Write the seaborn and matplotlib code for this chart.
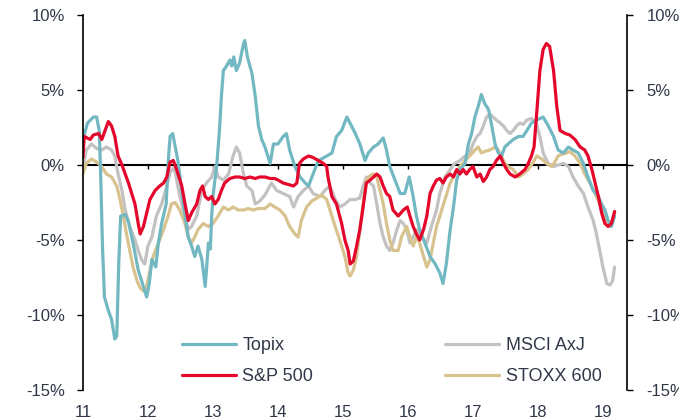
import matplotlib
matplotlib.use('Agg')
import matplotlib.pyplot as plt
from matplotlib.ticker import FuncFormatter
import seaborn as sns
import numpy as np

# (year, % value)
topix = [
    (11.0, 1.7), (11.07, 2.8), (11.16, 3.2), (11.21, 3.2), (11.25, 2.3), (11.27, -0.3), (11.30, -5.4),
    (11.33, -8.8), (11.39, -9.7), (11.44, -10.3), (11.49, -11.6), (11.52, -11.4), (11.55, -6.6),
    (11.58, -3.4), (11.65, -3.3), (11.70, -3.8), (11.77, -5.2), (11.85, -7.0), (11.93, -8.1),
    (11.98, -8.8), (12.02, -7.9), (12.06, -6.3), (12.12, -6.8), (12.16, -5.2), (12.21, -3.9),
    (12.28, -2.6), (12.31, 0.1), (12.34, 1.9), (12.38, 2.1), (12.42, 1.2), (12.46, 0.3), (12.52, -1.7),
    (12.57, -3.4), (12.62, -4.8), (12.67, -5.4), (12.72, -6.1), (12.77, -5.4), (12.83, -6.3),
    (12.88, -8.1), (12.90, -7.0), (12.93, -5.2), (12.96, -5.6), (12.98, -3.4), (13.0, -2.1),
    (13.06, 0.1), (13.10, 2.3), (13.13, 4.6), (13.16, 6.3), (13.21, 6.6), (13.26, 7.0), (13.29, 6.6),
    (13.32, 7.2), (13.36, 6.3), (13.41, 6.8), (13.47, 8.1), (13.49, 8.3), (13.53, 7.2), (13.60, 6.1),
    (13.65, 4.6), (13.70, 2.6), (13.75, 1.7), (13.80, 1.2), (13.88, 0.1), (13.93, 1.4), (14.0, 1.4),
    (14.08, 1.9), (14.13, 2.1), (14.18, 1.0), (14.26, -0.1), (14.34, -0.8), (14.42, -1.2),
    (14.47, -1.4), (14.54, -0.6), (14.62, 0.3), (14.67, 0.4), (14.75, 0.6), (14.83, 0.8), (14.90, 1.9),
    (14.98, 2.3), (15.06, 3.2), (15.12, 2.7), (15.19, 2.1), (15.26, 1.4), (15.34, 0.3), (15.39, 0.8),
    (15.47, 1.2), (15.54, 1.4), (15.62, 1.8), (15.67, 1.0), (15.72, -0.1), (15.80, -1.0),
    (15.88, -1.9), (15.95, -1.9), (16.02, -0.8), (16.08, -2.1), (16.13, -3.4), (16.18, -4.3),
    (16.26, -5.2), (16.34, -6.1), (16.42, -6.6), (16.49, -7.2), (16.54, -7.9), (16.59, -6.6),
    (16.65, -4.3), (16.70, -2.8), (16.75, -1.0), (16.80, -0.3), (16.88, 0.1), (16.93, 1.4),
    (16.98, 2.1), (17.03, 3.2), (17.08, 3.9), (17.13, 4.7), (17.18, 4.1), (17.24, 3.7), (17.29, 2.6),
    (17.34, 1.4), (17.39, 0.8), (17.44, 0.6), (17.49, 1.2), (17.54, 1.4), (17.62, 1.7), (17.70, 1.9),
    (17.77, 1.9), (17.83, 2.3), (17.90, 2.8), (17.98, 3.0), (18.08, 3.2), (18.16, 2.6), (18.24, 1.9),
    (18.31, 1.0), (18.39, 0.8), (18.47, 1.2), (18.54, 1.0), (18.62, 0.8), (18.70, 0.1), (18.77, -0.8),
    (18.85, -1.7), (18.93, -2.1), (18.98, -2.6), (19.03, -3.0), (19.08, -3.7), (19.13, -4.1),
    (19.18, -3.4),
]

sp500 = [
    (11.0, 0.5), (11.02, 1.9), (11.11, 1.7), (11.16, 2.0), (11.24, 2.1), (11.29, 1.7), (11.34, 2.3),
    (11.39, 2.9), (11.44, 2.6), (11.49, 1.9), (11.54, 0.6), (11.60, 0.0), (11.65, -0.6), (11.70, -1.2),
    (11.75, -1.9), (11.80, -2.6), (11.85, -3.9), (11.88, -4.6), (11.93, -4.1), (11.98, -3.2),
    (12.03, -2.3), (12.11, -1.7), (12.18, -1.4), (12.24, -1.2), (12.29, -0.8), (12.34, 0.2),
    (12.39, 0.3), (12.44, -0.3), (12.52, -1.4), (12.57, -2.6), (12.62, -3.7), (12.67, -3.2),
    (12.75, -2.6), (12.80, -1.7), (12.84, -1.4), (12.88, -2.1), (12.93, -2.3), (12.98, -2.1),
    (13.03, -2.6), (13.08, -2.3), (13.13, -1.7), (13.18, -1.2), (13.26, -0.9), (13.34, -0.8),
    (13.41, -0.8), (13.49, -0.9), (13.57, -0.8), (13.65, -0.9), (13.72, -0.8), (13.80, -0.8),
    (13.88, -0.9), (13.95, -0.9), (14.0, -1.0), (14.08, -1.2), (14.16, -1.3), (14.24, -1.4),
    (14.29, -1.2), (14.33, 0.1), (14.39, 0.4), (14.47, 0.6), (14.54, 0.5), (14.62, 0.3), (14.70, 0.1),
    (14.75, -0.1), (14.77, -0.8), (14.83, -2.1), (14.90, -2.6), (14.98, -3.9), (15.03, -5.0),
    (15.08, -5.7), (15.11, -6.6), (15.16, -6.4), (15.21, -5.4), (15.26, -4.3), (15.31, -2.8),
    (15.36, -1.2), (15.42, -1.0), (15.47, -0.8), (15.52, -0.6), (15.57, -0.8), (15.62, -1.4),
    (15.67, -1.9), (15.72, -2.1), (15.77, -3.0), (15.85, -3.4), (15.93, -3.0), (15.99, -2.8),
    (16.03, -3.4), (16.08, -4.1), (16.13, -4.6), (16.18, -5.0), (16.24, -4.3), (16.29, -3.4),
    (16.34, -1.9), (16.39, -1.4), (16.44, -1.0), (16.49, -0.9), (16.54, -1.2), (16.59, -0.8),
    (16.65, -0.6), (16.70, -0.8), (16.75, -0.3), (16.80, -0.6), (16.85, -0.3), (16.90, -0.6),
    (16.95, -0.3), (17.0, -0.1), (17.06, -0.8), (17.11, -0.6), (17.16, -1.1), (17.21, -0.8),
    (17.26, -0.3), (17.31, -0.1), (17.36, 0.3), (17.42, 0.6), (17.47, 0.1), (17.52, -0.3),
    (17.57, -0.6), (17.65, -0.8), (17.72, -0.6), (17.80, -0.3), (17.85, 0.1), (17.90, 0.6),
    (17.94, 1.2), (17.98, 3.4), (18.03, 6.3), (18.08, 7.7), (18.13, 8.1), (18.18, 7.9), (18.24, 6.3),
    (18.29, 3.9), (18.34, 2.3), (18.42, 2.1), (18.49, 2.0), (18.57, 1.7), (18.65, 1.2), (18.72, 1.0),
    (18.77, 0.6), (18.83, -0.3), (18.88, -1.2), (18.93, -2.1), (18.98, -3.2), (19.03, -3.9),
    (19.08, -4.1), (19.13, -3.9), (19.18, -3.1),
]

msci_axj = [
    (11.0, -0.3), (11.05, 1.0), (11.13, 1.4), (11.21, 1.1), (11.29, 1.0), (11.36, 1.2), (11.44, 1.0),
    (11.49, 0.6), (11.54, -0.6), (11.60, -1.7), (11.65, -3.0), (11.72, -4.1), (11.80, -5.0),
    (11.85, -5.7), (11.90, -6.3), (11.95, -6.6), (12.0, -5.4), (12.06, -4.8), (12.13, -3.4),
    (12.21, -2.6), (12.29, -1.4), (12.34, -0.5), (12.39, -0.2), (12.42, -0.5), (12.49, -2.1),
    (12.57, -3.4), (12.62, -4.3), (12.67, -4.1), (12.75, -3.4), (12.83, -1.7), (12.90, -1.2),
    (12.98, -0.8), (13.03, -0.1), (13.08, -0.8), (13.16, -1.0), (13.24, -0.6), (13.31, 0.6),
    (13.36, 1.2), (13.41, 0.8), (13.47, -0.6), (13.52, -1.4), (13.60, -1.7), (13.65, -2.6),
    (13.72, -2.4), (13.80, -2.0), (13.90, -1.2), (13.98, -1.7), (14.08, -1.9), (14.18, -2.1),
    (14.24, -2.8), (14.31, -2.1), (14.39, -1.7), (14.47, -1.4), (14.54, -1.9), (14.65, -2.1),
    (14.72, -1.7), (14.80, -1.4), (14.88, -2.3), (14.95, -2.8), (15.03, -2.6), (15.11, -2.3),
    (15.19, -2.3), (15.26, -2.2), (15.31, -1.4), (15.36, -0.8), (15.42, -1.2), (15.47, -1.4),
    (15.52, -2.6), (15.57, -3.9), (15.62, -4.8), (15.67, -5.4), (15.72, -5.7), (15.77, -5.2),
    (15.83, -4.3), (15.88, -3.7), (15.93, -3.9), (15.98, -4.3), (16.03, -5.2), (16.08, -4.8),
    (16.13, -4.3), (16.21, -4.8), (16.29, -5.2), (16.36, -4.1), (16.44, -3.0), (16.49, -1.9),
    (16.57, -0.8), (16.65, -0.3), (16.72, 0.1), (16.80, 0.3), (16.88, 0.6), (16.95, 0.8), (17.0, 1.4),
    (17.06, 1.9), (17.11, 2.1), (17.16, 2.6), (17.21, 3.2), (17.26, 3.4), (17.31, 3.2), (17.36, 3.0),
    (17.42, 2.8), (17.47, 2.6), (17.52, 2.3), (17.57, 2.1), (17.62, 2.3), (17.67, 2.6), (17.72, 2.8),
    (17.77, 2.7), (17.83, 3.0), (17.90, 3.1), (17.95, 2.9), (17.98, 2.7), (18.03, 1.9), (18.08, 0.8),
    (18.16, 0.1), (18.24, -0.1), (18.31, 0.0), (18.39, 0.1), (18.47, -0.1), (18.54, -0.8),
    (18.62, -1.4), (18.70, -1.9), (18.77, -2.8), (18.85, -3.7), (18.90, -4.6), (18.95, -5.7),
    (19.0, -6.8), (19.06, -7.9), (19.11, -8.0), (19.15, -7.7), (19.18, -6.8),
]

stoxx600 = [
    (11.0, -0.6), (11.05, 0.1), (11.13, 0.4), (11.21, 0.2), (11.29, -0.1), (11.36, -0.6), (11.44, -0.8),
    (11.52, -1.4), (11.57, -2.3), (11.62, -3.4), (11.67, -4.6), (11.72, -5.7), (11.77, -6.8),
    (11.83, -7.7), (11.88, -8.2), (11.93, -8.4), (11.98, -8.1), (12.03, -7.0), (12.08, -6.1),
    (12.16, -5.2), (12.24, -4.3), (12.31, -3.4), (12.36, -2.6), (12.42, -2.5), (12.49, -3.0),
    (12.57, -3.9), (12.62, -4.8), (12.67, -5.2), (12.72, -4.8), (12.77, -4.3), (12.85, -3.9),
    (12.93, -4.1), (13.0, -3.9), (13.08, -3.4), (13.16, -2.8), (13.24, -3.0), (13.31, -2.8),
    (13.39, -3.0), (13.47, -3.0), (13.54, -2.9), (13.62, -3.0), (13.70, -2.9), (13.80, -2.9),
    (13.88, -2.6), (13.95, -2.8), (14.03, -3.0), (14.11, -3.4), (14.18, -4.1), (14.26, -4.6),
    (14.31, -4.8), (14.36, -3.7), (14.44, -2.8), (14.52, -2.4), (14.60, -2.2), (14.67, -2.0),
    (14.75, -2.3), (14.80, -3.0), (14.88, -4.1), (14.95, -5.0), (15.03, -6.1), (15.08, -7.2),
    (15.11, -7.4), (15.16, -7.0), (15.21, -6.1), (15.26, -4.3), (15.31, -2.6), (15.36, -1.0),
    (15.42, -0.7), (15.47, -0.6), (15.52, -0.8), (15.57, -1.7), (15.62, -2.6), (15.67, -3.9),
    (15.72, -5.0), (15.77, -5.7), (15.85, -5.7), (15.90, -4.8), (15.98, -4.1), (16.03, -4.8),
    (16.08, -5.4), (16.13, -4.8), (16.18, -5.2), (16.24, -6.1), (16.29, -6.8), (16.34, -6.3),
    (16.39, -5.2), (16.44, -4.1), (16.49, -3.4), (16.57, -2.3), (16.65, -1.2), (16.72, -0.6),
    (16.80, -0.1), (16.88, 0.3), (16.95, 0.6), (17.03, 1.0), (17.08, 1.2), (17.13, 0.8), (17.18, 0.9),
    (17.26, 1.0), (17.34, 1.2), (17.39, 1.0), (17.44, 0.6), (17.49, 0.1), (17.54, -0.1), (17.62, -0.3),
    (17.70, -0.8), (17.77, -0.6), (17.85, -0.3), (17.93, 0.2), (17.98, 0.6), (18.06, 0.4), (18.13, 0.1),
    (18.21, -0.1), (18.26, 0.2), (18.31, 0.6), (18.36, 0.7), (18.44, 0.8), (18.49, 0.9), (18.57, 0.6),
    (18.65, 0.1), (18.72, -0.6), (18.80, -1.2), (18.88, -1.9), (18.95, -2.6), (19.0, -3.2),
    (19.06, -3.7), (19.11, -3.9), (19.16, -3.6), (19.18, -3.1),
]

years = [11, 12, 13, 14, 15, 16, 17, 18, 19]
y_ticks = [-15, -10, -5, 0, 5, 10]

TXT = '#303848'

sns.set_style('white')
plt.rcParams['font.family'] = ['Liberation Sans', 'DejaVu Sans']

fig = plt.figure(figsize=(6.79, 4.2), dpi=100)
ax = fig.add_axes([0.1222, 0.0714, 0.8012, 0.8929])

series = [
    ('MSCI AxJ', msci_axj, '#c3c1c1'),
    ('STOXX 600', stoxx600, '#d8c38f'),
    ('Topix', topix, '#72b8c2'),
    ('S&P 500', sp500, '#e5062b'),
]
lines = {}
for name, pts, col in series:
    t, v = np.array(pts).T
    sns.lineplot(x=t, y=v, ax=ax, color=col, lw=2.3, estimator=None, legend=False)
    lines[name] = ax.lines[-1]

ax.set_xlim(11, 19.37)
ax.set_ylim(-15, 10)
ax.set_xlabel('')
ax.set_ylabel('')
pct = FuncFormatter(lambda v, p: f'{v:.0f}%')
ax.set_yticks(y_ticks)
ax.yaxis.set_major_formatter(pct)
ax.set_xticks(years)
ax.set_xticklabels([str(y) for y in years])
ax.tick_params(axis='x', length=0, pad=11, labelsize=12, labelcolor=TXT)
ax.tick_params(axis='y', direction='out', length=4, width=1, color='black',
               pad=9, labelsize=12, labelcolor=TXT, left=True)
for s in ['top', 'bottom', 'right']:
    ax.spines[s].set_visible(False)
ax.spines['left'].set_color('black')
ax.spines['left'].set_linewidth(1.2)

ax2 = ax.twinx()
ax2.set_ylim(-15, 10)
ax2.set_yticks(y_ticks)
ax2.yaxis.set_major_formatter(pct)
ax2.tick_params(axis='y', direction='out', length=4, width=1, color='black',
                pad=10, labelsize=12, labelcolor=TXT, right=True)
for s in ['top', 'bottom', 'left']:
    ax2.spines[s].set_visible(False)
ax2.spines['right'].set_color('black')
ax2.spines['right'].set_linewidth(1.2)

# zero line with year ticks
zero_pos = (0 - (-15)) / 25
sec = ax.secondary_xaxis(zero_pos)
sec.set_alignment('bottom')
sec.set_xticks(years[1:])
sec.set_xticklabels([])
sec.tick_params(axis='x', direction='out', length=3, width=1, color='black')
sec.spines['bottom'].set_color('black')
sec.spines['bottom'].set_linewidth(1.5)

order = ['Topix', 'S&P 500', 'MSCI AxJ', 'STOXX 600']
leg = ax.legend([lines[n] for n in order], order, ncol=2, frameon=False,
                loc='upper left', bbox_to_anchor=(0.268, 0.198), bbox_transform=fig.transFigure,
                fontsize=13, handlelength=3.0, handletextpad=0.35, columnspacing=7.3,
                labelspacing=0.78, borderpad=0, borderaxespad=0)
for txt in leg.get_texts():
    txt.set_color(TXT)

fig.savefig('out.png', dpi=100)
